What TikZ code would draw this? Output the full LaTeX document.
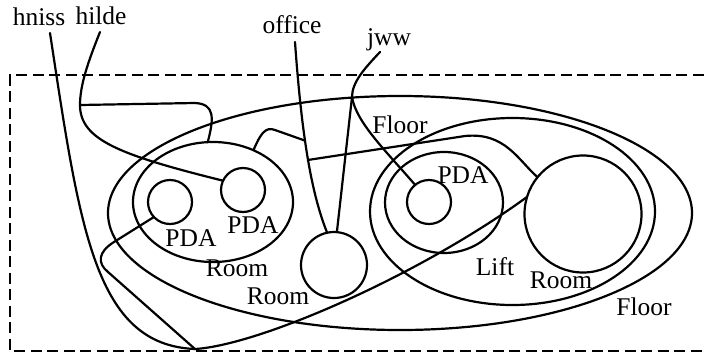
\documentclass[tikz,border=0pt]{standalone}
\usepackage{fontspec}
\setmainfont{Liberation Serif}
\usetikzlibrary{shapes.geometric}
\begin{document}
\begin{tikzpicture}[x=1pt,y=-1pt,
  wire/.style={line width=2.2pt, line cap=round, line join=round},
  place/.style={draw, line width=2.2pt, inner sep=0pt, outer sep=0pt},
  rgn/.style={place, ellipse},
  site/.style={place, circle},
  lbl/.style={anchor=base, inner sep=0pt, font=\fontsize{25.5}{30}\selectfont},
  frame/.style={line width=2.2pt, dash pattern=on 11pt off 5.5pt}]
\useasboundingbox (0,0) rectangle (706,354);
\clip (0,0) rectangle (706,354);
\draw[frame] (720,75) -- (10,75) -- (10,351) -- (720,351);
% regions and sites
\node[rgn, minimum width=584pt, minimum height=234pt] (floorA) at (400,213) {};
\node[rgn, minimum width=285pt, minimum height=187pt] (floorB) at (512.5,211.5) {};
\node[rgn, minimum width=118pt, minimum height=101pt] (lift) at (444,202.5) {};
\node[site, minimum size=117pt] (rroom) at (583,214) {};
\node[site, minimum size=44pt] (pdaC) at (429,202) {};
\node[rgn, minimum width=160pt, minimum height=120pt] (lroom) at (213,202) {};
\node[site, minimum size=44pt] (pdaA) at (170,202) {};
\node[site, minimum size=44pt] (pdaB) at (243,190) {};
\node[site, minimum size=66pt] (mroom) at (334,265) {};
% labels
\node[lbl] (tHn) at (39,25) {hniss};
\node[lbl] (tHi) at (101,24) {hilde};
\node[lbl] (tOf) at (292,33) {office};
\node[lbl] (tJw) at (389,45) {jww};
\node[lbl] (tFl1) at (400,133) {Floor};
\node[lbl] (tPc) at (463,183) {PDA};
\node[lbl] (tPa) at (191,246) {PDA};
\node[lbl] (tPb) at (253,233) {PDA};
\node[lbl] (tRl) at (237,276) {Room};
\node[lbl] (tRm) at (278,304) {Room};
\node[lbl] (tLi) at (495,275) {Lift};
\node[lbl] (tRr) at (561,288) {Room};
\node[lbl] (tFl2) at (644,315) {Floor};
% link ends
\coordinate (eHn) at (50,33);
\coordinate (eHi) at (100,32);
\coordinate (eOf) at (295,42);
\coordinate (eJw) at (380,52);
\coordinate (J1) at (195,349);
\coordinate (J2) at (80,105);
\coordinate (J4) at (352,97);
% hniss
\draw[wire] (eHn) .. controls (80,230) and (95,345) .. (J1);
\draw[wire] (J1) .. controls (260,345) and (420,275) .. (rroom.163);
\draw[wire] (pdaA.223) -- (114,242) .. controls (98,252) and (97,263) .. (108,272) -- (J1);
% hilde
\draw[wire] (eHi) .. controls (88,62) and (80,85) .. (J2) .. controls (80,140) and (120,155) .. (pdaB.155);
\draw[wire] (J2) -- (195,103) .. controls (215,104) and (214,118) .. (lroom.95);
% office
\draw[wire] (eOf) .. controls (302,140) and (312,195) .. (mroom.102) coordinate[pos=0.4] (J3a) coordinate[pos=0.5] (J3b);
\draw[wire] (J3a) -- (275,130) .. controls (265,126) and (260,135) .. (lroom.52);
\draw[wire] (J3b) -- (465,136) .. controls (505,132) and (518,160) .. (rroom.141);
% jww
\draw[wire] (eJw) .. controls (365,68) and (352,82) .. (J4) -- (mroom.85);
\draw[wire] (J4) .. controls (356,122) and (385,150) .. (pdaC.129);
\end{tikzpicture}
\end{document}
